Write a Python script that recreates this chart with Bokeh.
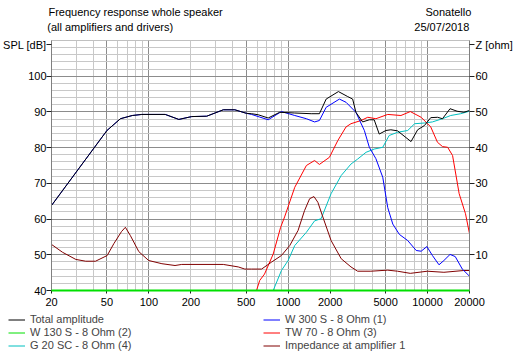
from bokeh.plotting import figure
from bokeh.layouts import column
from bokeh.models import (Range1d, LinearAxis, LogAxis, FixedTicker, Legend, LegendItem,
                          CustomJSTickFormatter)
from bokeh.embed import file_html
from bokeh.resources import INLINE

# ---- data ----
x_tick_values = [20, 50, 100, 200, 500, 1000, 2000, 5000, 10000, 20000]
spl_tick_values = [40, 50, 60, 70, 80, 90, 100, 108.8]
spl_tick_labels = ["40", "50", "60", "70", "80", "90", "100", "SPL [dB]"]
z_tick_values = [10, 20, 30, 40, 50, 60, 68.8]
z_tick_labels = ["10", "20", "30", "40", "50", "60", "Z [ohm]"]

title_row1_pos = [80.3, 14116]
title_row1_text = ["Frequency response whole speaker", "Sonatello"]
title_row2_pos = [52.8, 12660]
title_row2_text = ["(all amplifiers and drivers)", "25/07/2018"]

series_names = ["Total amplitude", "W 130 S - 8 Ohm (2)", "G 20 SC - 8 Ohm (4)",
                "W 300 S - 8 Ohm (1)", "TW 70 - 8 Ohm (3)", "Impedance at amplifier 1"]

f_total = [20, 50, 62.5, 76, 89, 131, 164, 203, 260, 342, 414, 502, 546, 610, 718, 868,
           1114, 1462, 1674, 1872, 2292, 2672, 2900, 3060, 3420, 3820, 4140, 4500, 5020,
           5450, 6090, 7610, 8490, 9500, 10540, 11780, 12800, 14500, 16300, 18200, 20000]
spl_total = [63.8, 84.8, 88.1, 89.0, 89.3, 89.3, 87.9, 88.7, 88.8, 90.6, 90.6, 89.6, 89.5,
             89.2, 88.3, 89.9, 89.7, 89.5, 89.5, 93.6, 95.7, 94.3, 93.6, 89.9, 87.2, 87.8,
             87.8, 83.8, 84.8, 85.0, 84.7, 81.7, 85.0, 86.2, 88.4, 88.5, 88.1, 90.9, 90.2,
             89.9, 90.4]

f_w300 = [20, 50, 62.5, 76, 89, 131, 164, 203, 260, 342, 414, 502, 546, 620, 718, 894,
          1114, 1350, 1546, 1674, 1872, 2330, 2600, 3060, 3520, 3820, 4260, 4770, 5180,
          5630, 6280, 7200, 8290, 9000, 9890, 10840, 12080, 13100, 14500, 15800, 17760, 20000]
spl_w300 = [63.8, 84.8, 88.1, 89.0, 89.3, 89.3, 87.9, 88.7, 88.8, 90.6, 90.6, 89.6, 89.3,
            88.6, 87.8, 90.1, 89.0, 88.1, 87.2, 87.6, 91.3, 93.6, 92.7, 89.9, 84.8, 80.1,
            76.9, 71.7, 63.2, 58.6, 55.7, 54.0, 51.2, 51.0, 52.3, 49.8, 47.2, 48.4, 50.1,
            49.5, 46.0, 44.0]

f_w130 = [20, 20000]
spl_w130 = [40, 40]

f_tw70 = [592, 624, 676, 780, 882, 942, 1114, 1350, 1546, 1674, 1976, 2270, 2600, 2820,
          3330, 3720, 4260, 5180, 6440, 7520, 9000, 10540, 11780, 12800, 13940, 15120,
          16860, 18720, 20000]
spl_tw70 = [40.0, 42.8, 44.6, 50.2, 57.7, 60.6, 68.9, 75.0, 76.4, 75.3, 77.3, 82.0, 85.8,
            86.7, 87.6, 88.5, 88.1, 89.3, 89.0, 90.1, 88.5, 85.8, 81.5, 80.3, 80.1, 77.8,
            67.1, 61.5, 55.9]

f_g20 = [780, 894, 998, 1114, 1350, 1546, 1722, 2030, 2400, 2820, 3150, 3620, 4140, 4770,
         5300, 6090, 7200, 8080, 9500, 10840, 12800, 14660, 17280, 20000]
spl_g20 = [40.0, 45.6, 48.4, 52.6, 56.3, 59.5, 60.1, 67.1, 72.2, 75.4, 76.8, 78.7, 79.6,
           80.1, 83.4, 84.3, 84.8, 86.7, 86.9, 87.2, 88.1, 89.0, 89.5, 90.2]

f_imp = [20, 24, 29.9, 35.2, 41.4, 50.2, 56, 63.6, 67.8, 73.6, 84.6, 99.6, 124, 154, 172,
         342, 438, 488, 546, 644, 762, 894, 1026, 1176, 1310, 1424, 1530, 1632, 1772, 2030,
         2400, 2820, 3150, 3920, 5180, 6090, 7520, 9960, 13100, 18200, 20000]
z_imp = [12.9, 10.7, 8.7, 8.2, 8.2, 9.8, 13.1, 16.5, 17.7, 15.4, 10.9, 8.4, 7.5, 7.0, 7.3,
         7.3, 6.6, 6.0, 6.0, 6.0, 8.0, 9.8, 12.6, 16.8, 22.4, 25.7, 26.3, 24.7, 20.6, 14.0,
         8.9, 6.6, 5.4, 5.4, 5.7, 5.4, 4.8, 5.4, 5.1, 5.6, 5.6]

grid_major_x = [50, 100, 500, 1000, 5000, 10000]
grid_minor_x = [20, 30, 40, 60, 70, 80, 90, 200, 300, 400, 600, 700, 800, 900,
                2000, 3000, 4000, 6000, 7000, 8000, 9000, 20000]
grid_major_y = [40, 50, 60, 70, 80, 90, 100, 110]
grid_minor_y = [v for v in range(40, 111, 2) if v % 10 != 0]

FONT = "Liberation Sans"
FS = "11px"
W = 520
MAIN_H, LEG_H = 310, 46

COL_TOTAL, COL_W130, COL_G20 = "black", "#00e000", "#00c0c0"
COL_W300, COL_TW70, COL_IMP = "#0000ff", "#ff0000", "#800000"

p = figure(width=W, height=MAIN_H, x_axis_type="log", x_range=Range1d(20, 20000),
           y_range=Range1d(40, 110), output_backend="svg", toolbar_location=None,
           min_border_left=49, min_border_right=51, min_border_top=40, min_border_bottom=20)
p.frame_align = False
p.extra_y_ranges = {"z": Range1d(0, 70)}
p.background_fill_color = "white"
p.border_fill_color = "white"
p.outline_line_color = "#c0c0c0"

# grids
p.xgrid.ticker = FixedTicker(ticks=grid_major_x, minor_ticks=grid_minor_x)
p.ygrid.ticker = FixedTicker(ticks=grid_major_y, minor_ticks=grid_minor_y)
for g in (p.xgrid, p.ygrid):
    g.grid_line_color = "#8c8c8c"
    g.minor_grid_line_color = "#c8c8c8"
    g.grid_line_width = 1

def label_lookup(labels):
    return CustomJSTickFormatter(args=dict(labels=labels), code="return labels[index]")

# axes
p.xaxis.ticker = FixedTicker(ticks=x_tick_values, minor_ticks=[])
p.xaxis.formatter = CustomJSTickFormatter(code="return tick.toFixed(0)")
p.yaxis.ticker = FixedTicker(ticks=spl_tick_values, minor_ticks=[])
p.yaxis.formatter = label_lookup(spl_tick_labels)
zaxis = LinearAxis(y_range_name="z", ticker=FixedTicker(ticks=z_tick_values, minor_ticks=[]),
                   formatter=label_lookup(z_tick_labels))
p.add_layout(zaxis, "right")

# title rows as label-only axes above the frame
top2 = LogAxis(ticker=FixedTicker(ticks=title_row2_pos, minor_ticks=[]),
               formatter=label_lookup(title_row2_text), major_label_standoff=8)
top1 = LogAxis(ticker=FixedTicker(ticks=title_row1_pos, minor_ticks=[]),
               formatter=label_lookup(title_row1_text), major_label_standoff=0)
for ax in (top2, top1):
    ax.axis_line_color = None
    ax.major_tick_out = 0
    ax.major_tick_in = 0
    ax.minor_tick_out = 0
    ax.minor_tick_in = 0
    ax.major_label_text_font = FONT
    ax.major_label_text_font_size = FS
    ax.major_label_text_color = "black"
p.add_layout(top2, "above")
p.add_layout(top1, "above")

bottom = p.below[0]
for ax in [bottom, p.left[0], zaxis]:
    ax.axis_line_color = "#808080"
    ax.major_tick_line_color = "#202020"
    ax.major_tick_out = 5
    ax.major_tick_in = 0
    ax.minor_tick_out = 0
    ax.minor_tick_in = 0
    ax.major_label_text_font = FONT
    ax.major_label_text_font_size = FS
    ax.major_label_text_color = "black"
    ax.major_label_standoff = 1
bottom.major_tick_out = 3
bottom.major_label_standoff = 4
p.left[0].major_label_standoff = 0

# lines
p.line(f_w130, spl_w130, line_color=COL_W130, line_width=2, level="overlay")
p.line(f_g20, spl_g20, line_color=COL_G20, line_width=1)
p.line(f_tw70, spl_tw70, line_color=COL_TW70, line_width=1)
p.line(f_imp, z_imp, line_color=COL_IMP, line_width=1, y_range_name="z")
p.line(f_w300, spl_w300, line_color=COL_W300, line_width=1)
p.line(f_total, spl_total, line_color=COL_TOTAL, line_width=1)

# legend strip below the chart (its own full-width frame)
lf = figure(width=W, height=LEG_H, x_range=Range1d(0, 1), y_range=Range1d(0, 1),
            output_backend="svg", toolbar_location=None, x_axis_location=None,
            y_axis_location=None, min_border=0)
lf.frame_align = False
lf.grid.visible = False
lf.outline_line_color = None
lf.background_fill_color = "white"
lf.border_fill_color = "white"
legend_colors = [COL_TOTAL, COL_W130, COL_G20, COL_W300, COL_TW70, COL_IMP]
items = []
for name, col in zip(series_names, legend_colors):
    # placeholder renderer (outside the visible range) that only supplies the legend style
    r = lf.line([-2, -1], [-2, -2], line_color=col, line_width=1)
    items.append(LegendItem(label=name, renderers=[r]))
legend = Legend(items=items, location=(8, 4.5), nrows=3, orientation="vertical",
                glyph_width=17, glyph_height=13, label_height=13, label_width=233,
                label_standoff=5, padding=0, spacing=0, margin=0, border_line_alpha=0,
                background_fill_alpha=0, label_text_font=FONT, label_text_font_size=FS)
lf.add_layout(legend)

layout = column(p, lf, spacing=0)
open("out.html", "w").write(file_html(layout, INLINE))
